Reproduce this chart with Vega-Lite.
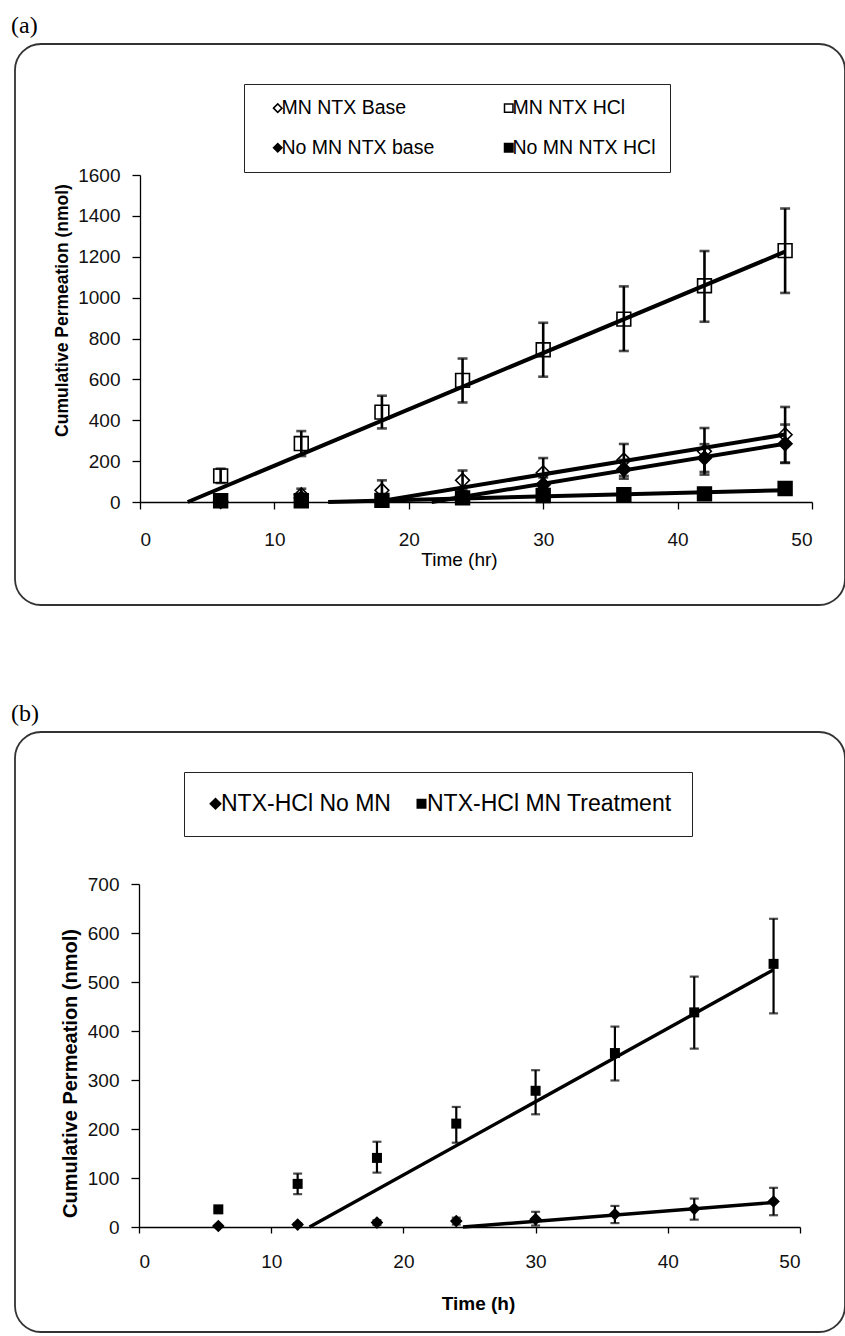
{
  "$schema": "https://vega.github.io/schema/vega-lite/v6.json",
  "padding": {"left": 10, "top": 13, "right": 0, "bottom": 0},
  "spacing": 95,
  "resolve": {
    "scale": {"x": "independent", "y": "independent", "shape": "independent", "fill": "independent", "size": "independent"},
    "legend": {"shape": "independent", "fill": "independent", "size": "independent"}
  },
  "config": {
    "font": "Liberation Sans",
    "view": {"stroke": "#333333", "strokeWidth": 1.8, "cornerRadius": 26},
    "axis": {"grid": false, "domainColor": "black", "tickColor": "black", "labelColor": "#111111", "titleColor": "black", "labelFont": "Liberation Sans", "titleFont": "Liberation Sans", "domainWidth": 1.3, "tickWidth": 1.3},
    "title": {"anchor": "start", "frame": "bounds", "font": "Liberation Serif", "fontSize": 24, "fontWeight": "normal", "color": "black", "dx": -4, "offset": 6}
  },
  "datasets": {
    "a_pts": [
      {"s": "MN NTX Base", "t": 6, "y": 5, "lo": 0, "hi": 12},
      {"s": "MN NTX Base", "t": 12, "y": 35, "lo": 5, "hi": 65},
      {"s": "MN NTX Base", "t": 18, "y": 57, "lo": 7, "hi": 106},
      {"s": "MN NTX Base", "t": 24, "y": 106, "lo": 58, "hi": 154},
      {"s": "MN NTX Base", "t": 30, "y": 143, "lo": 71, "hi": 215},
      {"s": "MN NTX Base", "t": 36, "y": 205, "lo": 127, "hi": 284},
      {"s": "MN NTX Base", "t": 42, "y": 248, "lo": 134, "hi": 362},
      {"s": "MN NTX Base", "t": 48, "y": 329, "lo": 193, "hi": 465},
      {"s": "MN NTX HCl", "t": 6, "y": 128, "lo": 93, "hi": 163},
      {"s": "MN NTX HCl", "t": 12, "y": 286, "lo": 225, "hi": 347},
      {"s": "MN NTX HCl", "t": 18, "y": 440, "lo": 360, "hi": 520},
      {"s": "MN NTX HCl", "t": 24, "y": 595, "lo": 487, "hi": 702},
      {"s": "MN NTX HCl", "t": 30, "y": 745, "lo": 613, "hi": 877},
      {"s": "MN NTX HCl", "t": 36, "y": 895, "lo": 739, "hi": 1055},
      {"s": "MN NTX HCl", "t": 42, "y": 1058, "lo": 882, "hi": 1228},
      {"s": "MN NTX HCl", "t": 48, "y": 1230, "lo": 1023, "hi": 1436},
      {"s": "No MN NTX base", "t": 6, "y": 2, "lo": 0, "hi": 5},
      {"s": "No MN NTX base", "t": 12, "y": 20, "lo": 5, "hi": 40},
      {"s": "No MN NTX base", "t": 18, "y": 10, "lo": 2, "hi": 18},
      {"s": "No MN NTX base", "t": 24, "y": 30, "lo": 10, "hi": 50},
      {"s": "No MN NTX base", "t": 30, "y": 85, "lo": 50, "hi": 120},
      {"s": "No MN NTX base", "t": 36, "y": 160, "lo": 114, "hi": 206},
      {"s": "No MN NTX base", "t": 42, "y": 215, "lo": 147, "hi": 283},
      {"s": "No MN NTX base", "t": 48, "y": 285, "lo": 191, "hi": 379},
      {"s": "No MN NTX HCl", "t": 6, "y": 6, "lo": 2, "hi": 10},
      {"s": "No MN NTX HCl", "t": 12, "y": 6, "lo": 2, "hi": 10},
      {"s": "No MN NTX HCl", "t": 18, "y": 8, "lo": 3, "hi": 13},
      {"s": "No MN NTX HCl", "t": 24, "y": 20, "lo": 12, "hi": 28},
      {"s": "No MN NTX HCl", "t": 30, "y": 32, "lo": 22, "hi": 42},
      {"s": "No MN NTX HCl", "t": 36, "y": 36, "lo": 26, "hi": 46},
      {"s": "No MN NTX HCl", "t": 42, "y": 40, "lo": 30, "hi": 50},
      {"s": "No MN NTX HCl", "t": 48, "y": 66, "lo": 50, "hi": 82}
    ],
    "a_lines": [
      {"s": "MN NTX HCl", "t": 3.55, "y": 0},
      {"s": "MN NTX HCl", "t": 48, "y": 1225},
      {"s": "MN NTX Base", "t": 17.5, "y": 0},
      {"s": "MN NTX Base", "t": 48, "y": 330},
      {"s": "No MN NTX base", "t": 21.7, "y": 0},
      {"s": "No MN NTX base", "t": 48, "y": 285},
      {"s": "No MN NTX HCl", "t": 14, "y": 0},
      {"s": "No MN NTX HCl", "t": 48, "y": 58}
    ],
    "b_pts": [
      {"s": "NTX-HCl No MN", "t": 6, "y": 2, "lo": 0, "hi": 4},
      {"s": "NTX-HCl No MN", "t": 12, "y": 5, "lo": 2, "hi": 8},
      {"s": "NTX-HCl No MN", "t": 18, "y": 9, "lo": 4, "hi": 14},
      {"s": "NTX-HCl No MN", "t": 24, "y": 12, "lo": 5, "hi": 19},
      {"s": "NTX-HCl No MN", "t": 30, "y": 16, "lo": 3, "hi": 31},
      {"s": "NTX-HCl No MN", "t": 36, "y": 26, "lo": 8, "hi": 43},
      {"s": "NTX-HCl No MN", "t": 42, "y": 37, "lo": 15, "hi": 58},
      {"s": "NTX-HCl No MN", "t": 48, "y": 52, "lo": 24, "hi": 80},
      {"s": "NTX-HCl MN Treatment", "t": 6, "y": 36, "lo": 34, "hi": 38},
      {"s": "NTX-HCl MN Treatment", "t": 12, "y": 88, "lo": 67, "hi": 109},
      {"s": "NTX-HCl MN Treatment", "t": 18, "y": 141, "lo": 111, "hi": 174},
      {"s": "NTX-HCl MN Treatment", "t": 24, "y": 211, "lo": 172, "hi": 245},
      {"s": "NTX-HCl MN Treatment", "t": 30, "y": 278, "lo": 230, "hi": 320},
      {"s": "NTX-HCl MN Treatment", "t": 36, "y": 355, "lo": 299, "hi": 409},
      {"s": "NTX-HCl MN Treatment", "t": 42, "y": 438, "lo": 364, "hi": 511},
      {"s": "NTX-HCl MN Treatment", "t": 48, "y": 537, "lo": 436, "hi": 629}
    ],
    "b_lines": [
      {"s": "NTX-HCl MN Treatment", "t": 12.9, "y": 0},
      {"s": "NTX-HCl MN Treatment", "t": 48, "y": 525},
      {"s": "NTX-HCl No MN", "t": 24.5, "y": 0},
      {"s": "NTX-HCl No MN", "t": 48, "y": 50}
    ]
  },
  "vconcat": [
    {
      "title": {"text": "(a)"},
      "width": 830,
      "height": 561,
      "encoding": {
        "x": {"field": "t", "type": "quantitative",
          "scale": {"domain": [0, 50], "range": [125, 797], "nice": false, "zero": false},
          "axis": {"orient": "bottom", "offset": -103, "values": [0, 10, 20, 30, 40, 50], "title": "Time (hr)", "titleFontSize": 19, "titleFontWeight": "normal", "titleX": 444, "titleY": 57, "titleBaseline": "middle", "titleAlign": "center", "labelFontSize": 19, "labelPadding": 21, "tickSize": 7}}
      },
      "layer": [
        {
          "data": {"name": "a_pts"},
          "mark": {"type": "point", "filled": true, "size": 190, "strokeWidth": 1.6, "stroke": "black", "opacity": 1},
          "encoding": {
            "y": {"field": "y", "type": "quantitative",
              "scale": {"domain": [0, 1600], "range": [458, 131], "nice": false, "zero": false},
              "axis": {"orient": "left", "offset": -125, "values": [0, 200, 400, 600, 800, 1000, 1200, 1400, 1600], "format": "d", "title": "Cumulative Permeation (nmol)", "titleFontSize": 17.5, "titleFontWeight": "bold", "titlePadding": 6, "titleY": 266, "labelFontSize": 19, "labelPadding": 12, "tickSize": 8}},
            "shape": {"field": "s", "type": "nominal",
              "scale": {"domain": ["MN NTX Base", "MN NTX HCl", "No MN NTX base", "No MN NTX HCl"], "range": ["diamond", "square", "diamond", "square"]},
              "legend": {"orient": "none", "legendX": 229, "legendY": 40, "direction": "horizontal", "columns": 2, "gridAlign": "all", "title": null, "strokeColor": "#222222", "padding": 14, "labelFontSize": 19.5, "labelColor": "black", "labelLimit": 400, "symbolSize": 72, "symbolOffset": 10, "labelOffset": -6, "columnPadding": 54, "rowPadding": 19,
                "encode": {"symbols": {"update": {"stroke": {"value": "black"}, "strokeWidth": {"value": 1.3}}}}}},
            "fill": {"field": "s", "type": "nominal",
              "scale": {"domain": ["MN NTX Base", "MN NTX HCl", "No MN NTX base", "No MN NTX HCl"], "range": ["white", "white", "black", "black"]},
              "legend": {"orient": "none", "legendX": 229, "legendY": 40, "direction": "horizontal", "columns": 2, "gridAlign": "all", "title": null, "strokeColor": "#222222", "padding": 14, "labelFontSize": 19.5, "labelColor": "black", "labelLimit": 400, "symbolSize": 72, "symbolOffset": 10, "labelOffset": -6, "columnPadding": 54, "rowPadding": 19,
                "encode": {"symbols": {"update": {"stroke": {"value": "black"}, "strokeWidth": {"value": 1.3}}}}}}
          }
        },
        {
          "data": {"name": "a_pts"},
          "mark": {"type": "rule", "color": "black", "strokeWidth": 2.6},
          "encoding": {
            "y": {"field": "lo", "type": "quantitative", "scale": {"domain": [0, 1600], "range": [458, 131], "nice": false, "zero": false}, "title": "Cumulative Permeation (nmol)"},
            "y2": {"field": "hi"}
          }
        },
        {
          "data": {"name": "a_pts"},
          "mark": {"type": "tick", "orient": "horizontal", "color": "black", "size": 10, "thickness": 2.6},
          "encoding": {
            "y": {"field": "hi", "type": "quantitative", "scale": {"domain": [0, 1600], "range": [458, 131], "nice": false, "zero": false}, "title": "Cumulative Permeation (nmol)"}
          }
        },
        {
          "data": {"name": "a_pts"},
          "mark": {"type": "tick", "orient": "horizontal", "color": "black", "size": 10, "thickness": 2.6},
          "encoding": {
            "y": {"field": "lo", "type": "quantitative", "scale": {"domain": [0, 1600], "range": [458, 131], "nice": false, "zero": false}, "title": "Cumulative Permeation (nmol)"}
          }
        },
        {
          "data": {"name": "a_lines"},
          "mark": {"type": "line", "color": "black", "strokeWidth": 4},
          "encoding": {
            "y": {"field": "y", "type": "quantitative", "scale": {"domain": [0, 1600], "range": [458, 131], "nice": false, "zero": false}, "title": "Cumulative Permeation (nmol)"},
            "detail": {"field": "s", "type": "nominal"}
          }
        }
      ]
    },
    {
      "title": {"text": "(b)"},
      "width": 830,
      "height": 600,
      "encoding": {
        "x": {"field": "t", "type": "quantitative",
          "scale": {"domain": [0, 50], "range": [124, 785], "nice": false, "zero": false},
          "axis": {"orient": "bottom", "offset": -105, "values": [0, 10, 20, 30, 40, 50], "title": "Time (h)", "titleFontSize": 19, "titleFontWeight": "bold", "titleX": 463, "titleY": 76, "titleBaseline": "middle", "titleAlign": "center", "labelFontSize": 19, "labelPadding": 19, "tickSize": 6}}
      },
      "layer": [
        {
          "data": {"name": "b_pts"},
          "mark": {"type": "point", "filled": true, "opacity": 1, "color": "black"},
          "encoding": {
            "y": {"field": "y", "type": "quantitative",
              "scale": {"domain": [0, 700], "range": [495, 152], "nice": false, "zero": false},
              "axis": {"orient": "left", "offset": -124, "values": [0, 100, 200, 300, 400, 500, 600, 700], "format": "d", "title": "Cumulative Permeation (nmol)", "titleFontSize": 20, "titleFontWeight": "bold", "titlePadding": 7, "titleY": 341, "labelFontSize": 19, "labelPadding": 12, "tickSize": 8}},
            "shape": {"field": "s", "type": "nominal",
              "scale": {"domain": ["NTX-HCl No MN", "NTX-HCl MN Treatment"], "range": ["diamond", "square"]},
              "legend": {"orient": "none", "legendX": 169, "legendY": 40, "direction": "horizontal", "columns": 2, "title": null, "strokeColor": "#222222", "padding": 20, "labelFontSize": 23, "labelLimit": 400, "labelColor": "black", "symbolFillColor": "black", "symbolStrokeColor": "black", "labelOffset": -6, "columnPadding": 19}},
            "size": {"field": "s", "type": "nominal",
              "scale": {"domain": ["NTX-HCl No MN", "NTX-HCl MN Treatment"], "range": [160, 100]},
              "legend": {"orient": "none", "legendX": 169, "legendY": 40, "direction": "horizontal", "columns": 2, "title": null, "strokeColor": "#222222", "padding": 20, "labelFontSize": 23, "labelLimit": 400, "labelColor": "black", "symbolFillColor": "black", "symbolStrokeColor": "black", "labelOffset": -6, "columnPadding": 19}}
          }
        },
        {
          "data": {"name": "b_pts"},
          "mark": {"type": "rule", "color": "black", "strokeWidth": 2.2},
          "encoding": {
            "y": {"field": "lo", "type": "quantitative", "scale": {"domain": [0, 700], "range": [495, 152], "nice": false, "zero": false}, "title": "Cumulative Permeation (nmol)"},
            "y2": {"field": "hi"}
          }
        },
        {
          "data": {"name": "b_pts"},
          "mark": {"type": "tick", "orient": "horizontal", "color": "black", "size": 9, "thickness": 2.2},
          "encoding": {
            "y": {"field": "hi", "type": "quantitative", "scale": {"domain": [0, 700], "range": [495, 152], "nice": false, "zero": false}, "title": "Cumulative Permeation (nmol)"}
          }
        },
        {
          "data": {"name": "b_pts"},
          "mark": {"type": "tick", "orient": "horizontal", "color": "black", "size": 9, "thickness": 2.2},
          "encoding": {
            "y": {"field": "lo", "type": "quantitative", "scale": {"domain": [0, 700], "range": [495, 152], "nice": false, "zero": false}, "title": "Cumulative Permeation (nmol)"}
          }
        },
        {
          "data": {"name": "b_lines"},
          "mark": {"type": "line", "color": "black", "strokeWidth": 3.4},
          "encoding": {
            "y": {"field": "y", "type": "quantitative", "scale": {"domain": [0, 700], "range": [495, 152], "nice": false, "zero": false}, "title": "Cumulative Permeation (nmol)"},
            "detail": {"field": "s", "type": "nominal"}
          }
        }
      ]
    }
  ]
}
